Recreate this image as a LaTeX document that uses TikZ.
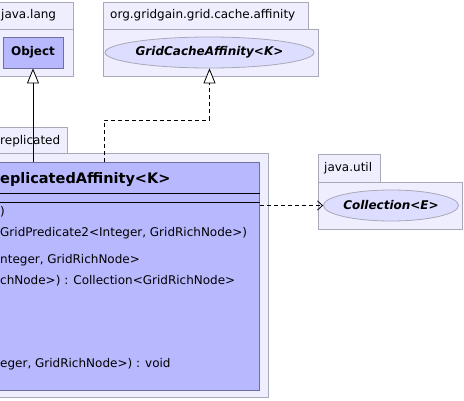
\documentclass[tikz,border=0pt]{standalone}
\usepackage{fontspec}
\setmainfont{DejaVu Sans}
\usetikzlibrary{arrows.meta,shapes.geometric}
\definecolor{pkgfill}{HTML}{EEEEFF}
\definecolor{pkgline}{HTML}{A8A8B8}
\definecolor{clsfill}{HTML}{B8B8FF}
\definecolor{clsline}{HTML}{7070A0}
\definecolor{ellfill}{HTML}{DDDDFF}
\tikzset{
  pkg/.style={draw=pkgline, fill=pkgfill, line width=0.8pt},
  clsbox/.style={draw=clsline, fill=clsfill, line width=0.8pt, inner sep=0pt},
  ellbox/.style={ellipse, draw=pkgline, fill=ellfill, line width=0.8pt, inner sep=0pt},
  pkglabel/.style={font=\fontsize{12}{14}\selectfont, anchor=west, inner sep=0pt},
  member/.style={font=\fontsize{12}{14}\selectfont, anchor=west, inner sep=0pt},
  inh/.style={-{Triangle[open, length=15pt, width=12pt, fill=white]}, line width=0.8pt},
  real/.style={-{Triangle[open, length=15pt, width=12pt, fill=white]}, line width=0.8pt, dash pattern=on 4pt off 3pt},
  dep/.style={-{Straight Barb[length=5pt, width=9pt]}, line width=0.8pt, dash pattern=on 4pt off 3pt},
}
\begin{document}
\begin{tikzpicture}[x=1pt, y=-1pt]
\useasboundingbox (0,0) rectangle (464,401);
% java.lang package
\draw[pkg] (-20,2) rectangle (73,29);
\draw[pkg] (-20,29) rectangle (73,76);
\node[pkglabel] (pl1) at (1,15.5) {java.lang};
\node[clsbox, minimum width=60pt, minimum height=31pt, font=\fontsize{12}{14}\selectfont\bfseries] (obj) at (33,52.5) {Object};
% org.gridgain.grid.cache.affinity package
\draw[pkg] (103,2) rectangle (308,29);
\draw[pkg] (103,29) rectangle (318,76);
\node[pkglabel] (pl2) at (110,15.5) {org.gridgain.grid.cache.affinity};
\node[ellbox, minimum width=195pt, minimum height=31pt, font=\fontsize{12}{14}\selectfont\bfseries\itshape] (gca) at (209.5,52.5) {GridCacheAffinity<K>};
% replicated package
\draw[pkg] (-20,127) rectangle (67,153);
\draw[pkg] (-20,153) rectangle (268,397);
\node[pkglabel] (pl3) at (0,141) {replicated};
% class box
\node[clsbox, minimum width=300pt, minimum height=228pt, anchor=north east] (cls) at (260,162) {};
\node[font=\fontsize{14.5}{17}\selectfont\bfseries, anchor=west, inner sep=0pt] (ttl) at (0,180) {eplicatedAffinity<K>};
\draw[line width=0.8pt] (-40,193) -- (260,193);
\draw[line width=0.8pt] (-40,202) -- (260,202);
\node[member] (m1) at (0,212) {)};
\node[member] (m2) at (0,233) {GridPredicate2<Integer, GridRichNode>)};
\node[member] (m3) at (0,260) {nteger, GridRichNode>};
\node[member] (m4) at (0,281) {chNode>) : Collection<GridRichNode>};
\node[member] (m5) at (0,364) {eger, GridRichNode>) : void};
% java.util package
\draw[pkg] (318,154) rectangle (380,182);
\draw[pkg] (318,182) rectangle (462,229);
\node[pkglabel] (pl4) at (324,168.5) {java.util};
\node[ellbox, minimum width=128pt, minimum height=31pt, font=\fontsize{12}{14}\selectfont\bfseries\itshape] (coll) at (391,205.5) {Collection<E>};
% connectors
\draw[inh] (obj.south |- cls.north) -- (obj.south);
\coordinate (d1) at (104,120);
\draw[real] (cls.north -| d1) -- (d1) -| (gca.south);
\draw[dep] (cls.east |- coll.west) -- (coll.west);
\end{tikzpicture}
\end{document}
